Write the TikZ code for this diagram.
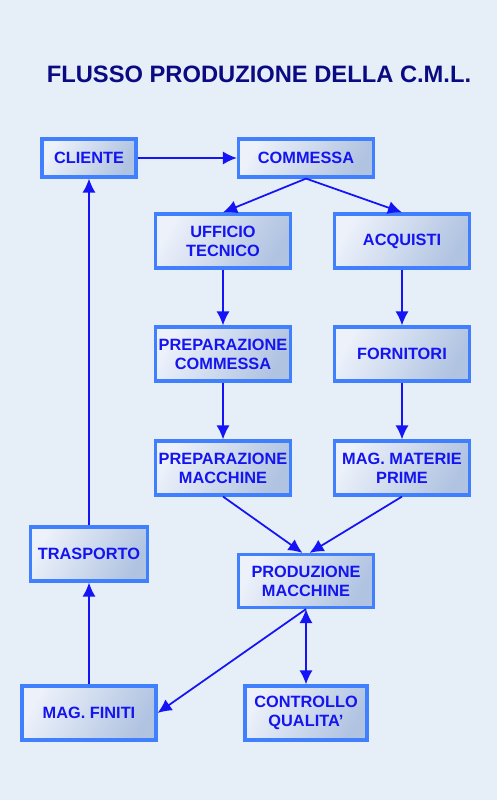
\documentclass[tikz,border=0pt]{standalone}
\usepackage{fontspec}
\setmainfont{Liberation Sans}
\usepackage{tikz}
\usetikzlibrary{positioning,arrows.meta,calc,backgrounds}
\definecolor{cmlBack}{RGB}{230,238,248}
\definecolor{cmlEdge}{RGB}{64,128,255}
\definecolor{cmlLight}{RGB}{236,241,250}
\definecolor{cmlDark}{RGB}{176,195,225}
\definecolor{cmlText}{RGB}{20,20,240}
\definecolor{cmlTitle}{RGB}{10,10,130}
\definecolor{cmlArrow}{RGB}{20,20,245}

\begin{document}
\begin{tikzpicture}[x=0.02cm, y=-0.02cm,
  box/.style={draw=cmlEdge, line width=1.8pt, left color=cmlLight, right color=cmlDark,
    shading angle=60, text=cmlText, font=\bfseries\fontsize{9.3}{10.8}\selectfont,
    align=center, inner sep=0pt},
  flow/.style={cmlArrow, line width=1pt, -{Latex[length=8pt,width=7.5pt]}}]
  % Page background
  \fill[cmlBack] (0,0) rectangle (497,800);
  \useasboundingbox (0,0) rectangle (497,800);

  % Title
  \node[text=cmlTitle, font=\bfseries\fontsize{13.5}{16}\selectfont] (title) at (259,74) {FLUSSO PRODUZIONE DELLA C.M.L.};

  % Boxes
  \node[box, minimum width=1.88cm, minimum height=0.76cm] (cliente) at (89,158) {CLIENTE};
  \node[box, minimum width=2.7cm, minimum height=0.76cm] (commessa) at (306,158) {COMMESSA};
  \node[box, minimum width=2.7cm, minimum height=1.08cm] (ufficio) at (223,241) {UFFICIO\\TECNICO};
  \node[box, minimum width=2.7cm, minimum height=1.08cm] (acquisti) at (402,241) {ACQUISTI};
  \node[box, minimum width=2.7cm, minimum height=1.08cm] (prepcom) at (223,354) {PREPARAZIONE\\COMMESSA};
  \node[box, minimum width=2.7cm, minimum height=1.08cm] (fornitori) at (402,354) {FORNITORI};
  \node[box, minimum width=2.7cm, minimum height=1.08cm] (prepmac) at (223,468) {PREPARAZIONE\\MACCHINE};
  \node[box, minimum width=2.7cm, minimum height=1.08cm] (magmat) at (402,468) {MAG. MATERIE\\PRIME};
  \node[box, minimum width=2.34cm, minimum height=1.08cm] (trasporto) at (89,554) {TRASPORTO};
  \node[box, minimum width=2.7cm, minimum height=1.06cm] (produzione) at (306,581) {PRODUZIONE\\MACCHINE};
  \node[box, minimum width=2.68cm, minimum height=1.08cm] (magfin) at (89,713) {MAG. FINITI};
  \node[box, minimum width=2.44cm, minimum height=1.08cm] (controllo) at (306,713) {CONTROLLO\\QUALITA’};

  % Flow
  \draw[flow] (cliente) -- (commessa);
  \draw[flow] (commessa.south) -- (ufficio.north);
  \draw[flow] (commessa.south) -- (acquisti.north);
  \draw[flow] (ufficio) -- (prepcom);
  \draw[flow] (prepcom) -- (prepmac);
  \draw[flow] (acquisti) -- (fornitori);
  \draw[flow] (fornitori) -- (magmat);
  \draw[flow] (prepmac.south) -- ([xshift=-2]produzione.north);
  \draw[flow] (magmat.south) -- ([xshift=2]produzione.north);
  \draw[flow, {Latex[length=8pt,width=7.5pt]}-{Latex[length=8pt,width=7.5pt]}] (produzione.south) -- (controllo.north);
  \draw[flow] (produzione.south) -- (magfin.east);
  \draw[flow] (magfin) -- (trasporto);
  \draw[flow] (trasporto) -- (cliente);
\end{tikzpicture}
\end{document}
